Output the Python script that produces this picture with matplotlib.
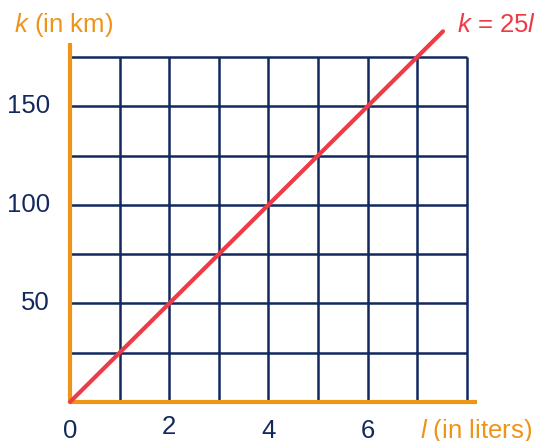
import matplotlib
matplotlib.use('Agg')
import matplotlib.pyplot as plt

plt.rcParams['font.family'] = ['Liberation Sans', 'DejaVu Sans']
plt.rcParams['mathtext.fontset'] = 'custom'
plt.rcParams['mathtext.it'] = 'Liberation Sans:italic'
plt.rcParams['mathtext.rm'] = 'Liberation Sans'

# ===== Data =====
liters = [0, 7.52]
km = [25 * v for v in liters]
grid_x = [1, 2, 3, 4, 5, 6, 7, 8]
grid_y = [25, 50, 75, 100, 125, 150, 175]
xtick_vals = [0, 2, 4, 6]
xtick_labels = ['0', '2', '4', '6']
ytick_vals = [50, 100, 150]
ytick_labels = ['50', '100', '150']

C_ORANGE = '#EE9418'
C_NAVY = '#13295E'
C_RED = '#EE3B45'
FS = 18.5

fig = plt.figure(figsize=(5.34, 4.41), dpi=100)
ax = fig.add_axes([0, 0, 1, 1])
ax.set_xlim(-1.411, 9.355)
ax.set_ylim(-19.78, 203.9)
ax.axis('off')

# grid
ax.vlines(grid_x, 0, 175, color=C_NAVY, linewidth=1.8, zorder=1)
ax.hlines(grid_y, 0, 8, color=C_NAVY, linewidth=1.8, zorder=1)

# axes
ax.plot([0, 8.2], [0, 0], color=C_ORANGE, linewidth=3, solid_capstyle='butt', zorder=2)
ax.plot([0, 0], [0, 182], color=C_ORANGE, linewidth=3, solid_capstyle='butt', zorder=2)

# k = 25 l
ax.plot(liters, km, color=C_RED, linewidth=3, solid_capstyle='round', zorder=3)

# tick labels (staggered like the original)
x_offsets = [-14.6, -12.6, -14.6, -14.6]
for v, lab, dy in zip(xtick_vals, xtick_labels, x_offsets):
    ax.text(v, dy, lab, ha='center', va='center', fontsize=FS, color=C_NAVY)
for v, lab in zip(ytick_vals, ytick_labels):
    ax.text(-0.4, v, lab, ha='right', va='center', fontsize=FS, color=C_NAVY)

# axis titles
ax.text(-1.12, 191, r'$k$ (in km)', ha='left', va='center', fontsize=FS, color=C_ORANGE)
ax.text(7.8, 191, r'$k$ = 25$l$', ha='left', va='center', fontsize=FS, color=C_RED)
ax.text(7.05, -14.6, r'$l$ (in liters)', ha='left', va='center', fontsize=FS, color=C_ORANGE)

plt.savefig('out.png', dpi=100)
plt.close()
